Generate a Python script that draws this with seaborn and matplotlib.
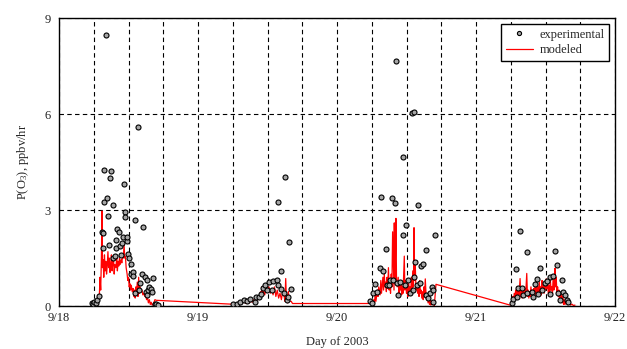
import numpy as np
import pandas as pd
from matplotlib import pyplot as plt
from matplotlib.lines import Line2D
from matplotlib.ticker import MultipleLocator
import seaborn as sns

# experimental P(O3), day fraction (Sept 2003) and ppbv/hr
exp_day1_t = [18.235, 18.245, 18.255, 18.265, 18.27, 18.285, 18.307, 18.314, 18.319, 18.324,
              18.326, 18.338, 18.348, 18.355, 18.362, 18.369, 18.376, 18.386, 18.39, 18.403,
              18.41, 18.41, 18.42, 18.43, 18.439, 18.446, 18.453, 18.46, 18.468, 18.475,
              18.477, 18.487, 18.49, 18.499, 18.506, 18.516, 18.52, 18.53, 18.535, 18.55,
              18.55, 18.568, 18.578, 18.583, 18.6, 18.607, 18.619, 18.626, 18.631, 18.635,
              18.64, 18.65, 18.66, 18.667, 18.674, 18.69, 18.7, 18.71]
exp_day1_p = [0.1, 0.08, 0.12, 0.1, 0.19, 0.31, 2.32, 1.83, 2.27, 3.25,
              4.24, 8.47, 3.38, 2.82, 1.9, 4.01, 4.21, 1.49, 3.16, 1.56,
              2.06, 1.8, 2.4, 2.3, 1.87, 1.59, 1.96, 2.15, 3.81, 2.94,
              2.78, 2.04, 2.15, 1.62, 1.49, 1.3, 1.0, 1.07, 0.94, 2.69,
              0.4, 5.59, 0.5, 0.73, 1.0, 2.46, 0.9, 0.45, 0.83, 0.36,
              0.5, 0.6, 0.52, 0.43, 0.88, 0.05, 0.08, 0.03]

exp_day2_t = [19.255, 19.28, 19.3, 19.33, 19.355, 19.374, 19.41, 19.42, 19.44, 19.45,
              19.465, 19.48, 19.494, 19.51, 19.53, 19.54, 19.566, 19.578, 19.578, 19.595,
              19.6, 19.62, 19.626, 19.64, 19.65, 19.655, 19.667]
exp_day2_p = [0.06, 0.08, 0.13, 0.19, 0.17, 0.22, 0.13, 0.29, 0.27, 0.375,
              0.58, 0.66, 0.5, 0.76, 0.5, 0.79, 0.81, 0.66, 3.25, 1.11,
              0.52, 0.4, 4.04, 0.19, 0.29, 2.0, 0.52]

exp_day3_t = [20.237, 20.254, 20.261, 20.273, 20.286, 20.31, 20.317, 20.333, 20.353, 20.358,
              20.374, 20.381, 20.393, 20.4, 20.417, 20.424, 20.43, 20.441, 20.453, 20.477,
              20.477, 20.489, 20.494, 20.513, 20.525, 20.537, 20.549, 20.554, 20.556, 20.561,
              20.573, 20.585, 20.597, 20.604, 20.62, 20.638, 20.64, 20.657, 20.669, 20.681,
              20.693, 20.693, 20.705]
exp_day3_p = [0.16, 0.1, 0.4, 0.68, 0.45, 1.2, 3.42, 1.1, 1.77, 0.66,
              0.66, 0.81, 3.38, 0.83, 3.22, 7.67, 0.71, 0.34, 0.76, 4.65,
              2.22, 0.66, 2.52, 0.81, 0.4, 6.02, 0.5, 0.92, 6.08, 1.38,
              0.66, 3.15, 0.73, 1.26, 1.3, 1.74, 0.34, 0.24, 0.42, 0.6,
              0.5, 0.13, 2.22]

exp_day4_t = [21.257, 21.268, 21.286, 21.293, 21.305, 21.317, 21.329, 21.34, 21.365, 21.369,
              21.4, 21.408, 21.424, 21.439, 21.448, 21.46, 21.472, 21.496, 21.508, 21.532,
              21.532, 21.552, 21.568, 21.583, 21.592, 21.604, 21.616, 21.628, 21.64, 21.652,
              21.664]
exp_day4_p = [0.1, 0.21, 1.15, 0.29, 0.58, 2.35, 0.58, 0.34, 0.4, 1.7,
              0.45, 0.29, 0.68, 0.86, 0.375, 1.18, 0.5, 0.73, 0.78, 0.92,
              0.375, 0.94, 1.73, 1.27, 0.4, 0.19, 0.81, 0.45, 0.34, 0.19,
              0.13]

# modeled P(O3)
mod_day1_t = [18.26, 18.27, 18.28, 18.29, 18.295, 18.3, 18.305, 18.309, 18.313, 18.318,
              18.322, 18.327, 18.332, 18.337, 18.342, 18.347, 18.352, 18.357, 18.362, 18.367,
              18.372, 18.377, 18.382, 18.387, 18.392, 18.397, 18.402, 18.41, 18.415, 18.42,
              18.425, 18.43, 18.435, 18.44, 18.447, 18.452, 18.458, 18.463, 18.468, 18.473,
              18.478, 18.483, 18.49, 18.495, 18.5, 18.505, 18.51, 18.515, 18.52, 18.527,
              18.533, 18.538, 18.543, 18.548, 18.553, 18.558, 18.563, 18.568, 18.573, 18.578,
              18.583, 18.59, 18.597, 18.603, 18.61, 18.617, 18.623, 18.63, 18.637, 18.643,
              18.65, 18.657, 18.663, 18.67, 18.68, 18.69, 18.7]
mod_day1_p = [0.0, 0.02, 0.05, 0.3, 0.9, 0.5, 1.5, 2.97, 1.2, 1.45,
              0.9, 1.6, 1.1, 1.4, 1.0, 1.25, 1.7, 1.2, 1.5, 1.05,
              1.3, 1.6, 1.1, 1.35, 1.5, 1.0, 1.3, 1.2, 1.55, 1.1,
              1.4, 1.25, 1.5, 1.3, 1.45, 1.35, 1.6, 1.5, 1.93, 1.5,
              1.55, 1.2, 1.0, 0.8, 0.9, 0.6, 0.7, 0.5, 0.65, 0.45,
              0.55, 0.3, 0.5, 0.25, 0.6, 0.35, 0.75, 0.3, 0.9, 0.4,
              0.6, 0.45, 0.5, 0.35, 0.4, 0.3, 0.35, 0.2, 0.25, 0.1,
              0.2, 0.05, 0.12, 0.03, 0.08, 0.2, 0.18]

mod_day2_t = [19.24, 19.25, 19.27, 19.29, 19.3, 19.32, 19.33, 19.345, 19.36, 19.37,
              19.38, 19.39, 19.4, 19.41, 19.42, 19.43, 19.44, 19.45, 19.455, 19.46,
              19.465, 19.47, 19.48, 19.49, 19.5, 19.51, 19.52, 19.53, 19.54, 19.55,
              19.56, 19.57, 19.58, 19.59, 19.6, 19.61, 19.62, 19.625, 19.631, 19.636,
              19.64, 19.645, 19.65, 19.655, 19.66, 19.67, 19.68]
mod_day2_p = [0.06, 0.03, 0.05, 0.08, 0.06, 0.1, 0.14, 0.08, 0.15, 0.1,
              0.18, 0.12, 0.2, 0.1, 0.15, 0.3, 0.2, 0.45, 0.3, 0.6,
              0.4, 0.5, 0.35, 0.55, 0.45, 0.6, 0.4, 0.55, 0.35, 0.6,
              0.3, 0.5, 0.25, 0.4, 0.2, 0.5, 0.3, 0.15, 0.86, 0.2,
              0.35, 0.1, 0.45, 0.2, 0.15, 0.15, 0.08]

mod_day3_t = [20.26, 20.265, 20.27, 20.275, 20.28, 20.29, 20.295, 20.3, 20.31, 20.315,
              20.32, 20.33, 20.335, 20.34, 20.345, 20.35, 20.355, 20.36, 20.365, 20.37,
              20.375, 20.38, 20.385, 20.39, 20.395, 20.4, 20.405, 20.41, 20.412, 20.416,
              20.42, 20.424, 20.428, 20.433, 20.44, 20.445, 20.45, 20.455, 20.46, 20.465,
              20.47, 20.475, 20.48, 20.484, 20.488, 20.493, 20.5, 20.505, 20.51, 20.515,
              20.52, 20.525, 20.53, 20.535, 20.54, 20.545, 20.55, 20.554, 20.558, 20.563,
              20.568, 20.573, 20.58, 20.585, 20.59, 20.595, 20.6, 20.605, 20.61, 20.615,
              20.62, 20.625, 20.63, 20.635, 20.64, 20.645, 20.65, 20.655, 20.66, 20.665,
              20.67, 20.675, 20.68, 20.69, 20.695, 20.7, 20.712]
mod_day3_p = [0.08, 0.2, 0.1, 0.4, 0.15, 0.5, 0.3, 0.6, 0.35, 0.8,
              0.4, 0.9, 0.5, 1.0, 0.6, 0.75, 0.45, 0.9, 0.55, 1.2,
              0.5, 0.8, 0.4, 1.0, 0.6, 2.32, 1.4, 0.5, 2.6, 0.7,
              1.5, 2.74, 0.8, 0.6, 0.9, 0.4, 0.7, 0.5, 0.8, 0.35,
              0.6, 0.4, 1.0, 1.56, 0.5, 0.8, 0.4, 0.6, 0.3, 0.7,
              0.45, 0.6, 0.35, 0.9, 0.5, 1.1, 0.6, 2.45, 0.8, 1.3,
              0.5, 0.7, 0.4, 0.6, 0.3, 0.8, 0.4, 0.5, 0.25, 0.45,
              0.2, 0.6, 0.3, 0.85, 0.4, 0.2, 0.35, 0.1, 0.3, 0.05,
              0.25, 0.03, 0.15, 0.05, 0.1, 0.02, 0.68]

mod_day4_t = [21.245, 21.25, 21.255, 21.26, 21.265, 21.27, 21.275, 21.28, 21.285, 21.29,
              21.295, 21.3, 21.305, 21.31, 21.317, 21.322, 21.327, 21.332, 21.337, 21.342,
              21.347, 21.352, 21.357, 21.365, 21.37, 21.375, 21.38, 21.385, 21.39, 21.395,
              21.4, 21.405, 21.41, 21.415, 21.42, 21.425, 21.43, 21.435, 21.44, 21.445,
              21.45, 21.455, 21.46, 21.465, 21.47, 21.475, 21.48, 21.485, 21.49, 21.495,
              21.5, 21.505, 21.51, 21.515, 21.52, 21.525, 21.53, 21.535, 21.54, 21.545,
              21.55, 21.555, 21.56, 21.565, 21.568, 21.572, 21.577, 21.582, 21.587, 21.592,
              21.597, 21.6, 21.605, 21.61, 21.615, 21.62, 21.625, 21.63, 21.635, 21.64,
              21.65, 21.66, 21.67, 21.68, 21.69, 21.7, 21.712]
mod_day4_p = [0.03, 0.05, 0.15, 0.08, 0.3, 0.15, 0.4, 0.2, 0.5, 0.3,
              0.6, 0.25, 0.55, 0.35, 0.86, 0.3, 0.5, 0.25, 0.6, 0.4,
              0.3, 0.55, 0.35, 1.02, 0.3, 0.5, 0.25, 0.45, 0.3, 0.6,
              0.35, 0.5, 0.3, 0.55, 0.4, 0.65, 0.35, 0.7, 0.45, 0.6,
              0.4, 0.75, 0.45, 0.6, 0.35, 0.8, 0.5, 0.65, 0.4, 0.7,
              0.5, 0.85, 0.55, 0.7, 0.4, 0.65, 0.45, 0.8, 0.5, 0.6,
              0.4, 0.9, 0.5, 0.7, 1.18, 0.6, 0.9, 0.4, 0.6, 0.3,
              0.5, 0.25, 0.4, 0.15, 0.35, 0.1, 0.3, 0.05, 0.2, 0.05,
              0.15, 0.04, 0.1, 0.03, 0.06, 0.02, 0.03]

day_ticks = [18, 19, 20, 21, 22]
day_labels = ['9/18', '9/19', '9/20', '9/21', '9/22']
p_ticks = [0, 3, 6, 9]

exp_df = pd.DataFrame({
    't': exp_day1_t + exp_day2_t + exp_day3_t + exp_day4_t,
    'p': exp_day1_p + exp_day2_p + exp_day3_p + exp_day4_p,
})
mod_df = pd.DataFrame({
    't': mod_day1_t + mod_day2_t + mod_day3_t + mod_day4_t,
    'p': mod_day1_p + mod_day2_p + mod_day3_p + mod_day4_p,
})

sns.set_style('white')
plt.rcParams['font.family'] = ['Liberation Serif', 'DejaVu Serif']
plt.rcParams['mathtext.fontset'] = 'custom'
plt.rcParams['mathtext.rm'] = 'Liberation Serif'
plt.rcParams['mathtext.it'] = 'Liberation Serif:italic'

fig = plt.figure(figsize=(6.27, 3.49), dpi=100)
ax = fig.add_axes([0.0941, 0.123, 0.8868, 0.8252])

sns.lineplot(data=mod_df, x='t', y='p', ax=ax, color='red', linewidth=0.9,
             sort=False, estimator=None, zorder=2)
sns.scatterplot(data=exp_df, x='t', y='p', ax=ax, color='#a6a6a6', edgecolor='black',
                linewidth=0.8, s=13, zorder=3)

ax.set_xlim(18, 22)
ax.set_ylim(0, 9)
ax.set_xticks(day_ticks)
ax.set_xticklabels(day_labels)
ax.set_yticks(p_ticks)
ax.xaxis.set_minor_locator(MultipleLocator(0.25))
ax.grid(True, which='both', axis='x', color='black', linestyle=(0, (4, 3)), linewidth=0.8)
ax.grid(True, which='major', axis='y', color='black', linestyle=(0, (4, 3)), linewidth=0.8)
ax.tick_params(which='both', direction='in', length=0, labelsize=9, colors='#222222')
ax.tick_params(axis='x', pad=4)
ax.tick_params(axis='y', pad=6)
for sp in ax.spines.values():
    sp.set_color('black')
    sp.set_linewidth(1.0)

ax.set_xlabel('Day of 2003', fontsize=9, labelpad=9)
ax.set_ylabel(r'P(O$_{\mathrm{3}}$), ppbv/hr', fontsize=9, labelpad=10)

handles = [
    Line2D([], [], linestyle='none', marker='o', markersize=3, markerfacecolor='#a6a6a6',
           markeredgecolor='black', markeredgewidth=0.8),
    Line2D([], [], color='red', linewidth=0.9),
]
leg = ax.legend(handles, ['experimental', 'modeled'], loc='upper right', fontsize=9,
                frameon=True, fancybox=False, framealpha=1, edgecolor='black',
                borderaxespad=0.45, handlelength=2.2, labelspacing=0.3,
                borderpad=0.4, handletextpad=0.5)
leg.get_frame().set_linewidth(1.0)

fig.savefig('out.png', dpi=100)
